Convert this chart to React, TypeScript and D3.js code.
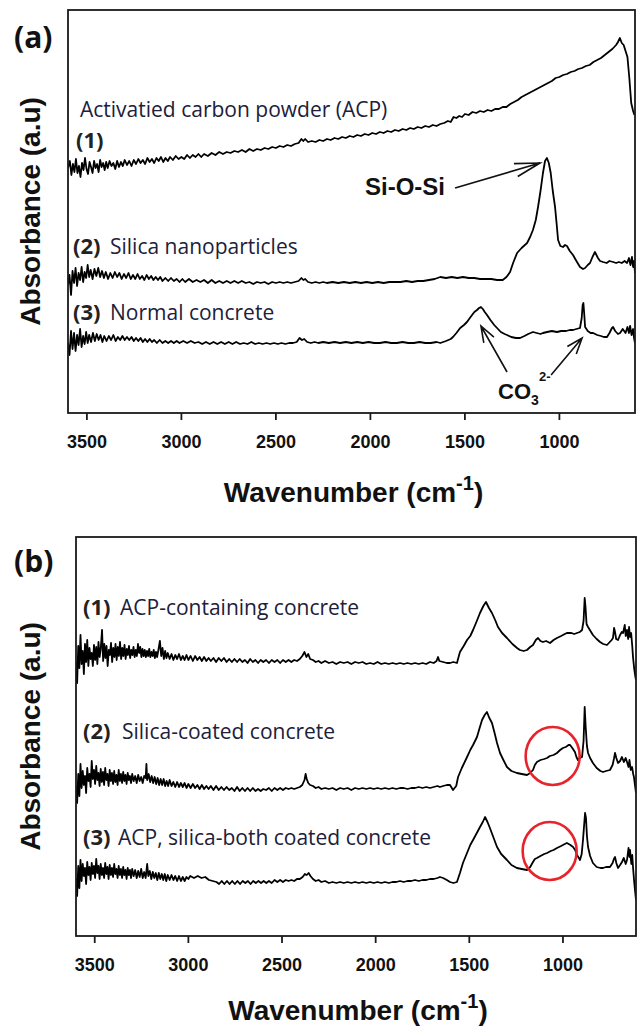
import React from 'react';
import * as d3 from 'd3';

// ---------- DATA ----------
const xTicks = [3500, 3000, 2500, 2000, 1500, 1000];

// Panel (a): absorbance (a.u., offset-stacked) vs wavenumber (cm-1)
const acpPowder: [number, number][] = [
  [3600,245],[3590,252],[3582,238],[3574,249],[3566,241],[3558,254],[3550,240],[3542,247],[3534,236],[3526,250],
  [3518,243],[3510,255],[3502,244],[3494,239],[3486,251],[3478,246],[3470,240],[3462,252],[3454,245],[3446,249],
  [3438,241],[3430,253],[3422,246],[3414,250],[3406,243],[3398,251],[3390,245],[3380,252],[3370,247],[3360,250],
  [3350,244],[3340,252],[3330,246],[3320,251],[3310,247],[3300,253],[3288,248],[3276,252],[3264,247],[3252,253],
  [3240,249],[3228,254],[3216,250],[3204,253],[3192,249],[3180,255],[3168,251],[3156,254],[3144,250],[3132,255],
  [3120,252],[3108,256],[3096,251],[3084,255],[3072,252],[3060,256],[3045,253],[3030,257],[3015,254],[3000,256],
  [2985,254],[2970,258],[2955,255],[2940,258],[2925,256],[2910,259],[2895,256],[2880,259],[2860,257],[2840,260],
  [2820,258],[2800,261],[2780,259],[2760,261],[2740,260],[2720,262],[2700,261],[2680,263],[2660,261],[2640,264],
  [2620,262],[2600,264],[2580,263],[2560,265],[2540,264],[2520,266],[2500,265],[2480,267],[2460,266],[2440,268],
  [2420,267],[2400,269],[2380,270],[2365,274],[2355,272],[2345,274],[2330,271],[2310,272],[2290,271],[2270,273],
  [2250,272],[2230,274],[2210,273],[2190,275],[2170,274],[2150,276],[2130,275],[2110,277],[2090,276],[2070,278],
  [2050,277],[2030,279],[2010,278],[1990,280],[1970,279],[1950,281],[1930,280],[1910,282],[1890,281],[1870,283],
  [1850,282],[1830,284],[1810,283],[1790,285],[1770,284],[1750,286],[1730,285],[1710,287],[1690,286],[1670,288],
  [1650,287],[1630,289],[1610,290],[1590,292],[1575,291],[1560,296],[1545,295],[1530,297],[1515,296],[1500,299],
  [1480,298],[1460,301],[1440,300],[1420,302],[1400,301],[1380,303],[1360,302],[1340,304],[1320,304],[1300,306],
  [1280,306],[1260,309],[1240,311],[1220,313],[1200,316],[1180,318],[1160,320],[1140,322],[1120,324],[1100,326],
  [1080,328],[1060,330],[1040,332],[1020,335],[1000,336],[980,338],[960,339],[940,341],[920,342],[900,344],
  [880,345],[860,347],[840,348],[820,351],[800,353],[780,355],[760,358],[740,361],[720,364],[700,368],
  [690,371],[680,375],[670,370],[660,368],[650,362],[640,356],[630,335],[620,310],[610,302],[603,298],
];

const silicaNano: [number, number][] = [
  [3600,128],[3592,138],[3584,118],[3576,142],[3568,130],[3560,145],[3552,127],[3544,140],[3536,133],[3528,146],
  [3520,131],[3512,141],[3504,135],[3496,148],[3488,136],[3480,143],[3470,134],[3460,144],[3450,137],[3440,145],
  [3430,136],[3420,142],[3410,135],[3400,141],[3388,134],[3376,140],[3364,135],[3352,141],[3340,136],[3328,140],
  [3316,134],[3304,139],[3292,135],[3280,140],[3268,134],[3256,138],[3244,134],[3232,139],[3220,134],[3208,137],
  [3196,133],[3184,138],[3172,134],[3160,137],[3148,133],[3136,136],[3124,133],[3112,136],[3100,132],[3085,135],
  [3070,132],[3055,135],[3040,132],[3025,134],[3010,131],[2995,134],[2980,131],[2960,134],[2940,131],[2920,133],
  [2900,131],[2880,133],[2860,130],[2840,133],[2820,130],[2800,132],[2780,130],[2760,132],[2740,130],[2720,132],
  [2700,130],[2680,132],[2660,130],[2640,131],[2620,129],[2600,131],[2580,130],[2560,131],[2540,129],[2520,131],
  [2500,130],[2480,131],[2460,130],[2440,131],[2420,130],[2400,131],[2380,132],[2365,135],[2355,133],[2345,134],
  [2330,131],[2310,130],[2290,131],[2270,130],[2250,131],[2230,130],[2200,131],[2170,130],[2140,131],[2110,130],
  [2080,131],[2050,130],[2020,131],[1990,130],[1960,131],[1930,130],[1900,131],[1870,131],[1840,131],[1810,132],
  [1780,131],[1750,132],[1720,132],[1690,133],[1660,134],[1630,136],[1600,135],[1570,136],[1540,135],[1510,136],
  [1480,135],[1450,135],[1420,134],[1390,134],[1360,134],[1330,133],[1300,133],[1280,136],[1261,141],[1245,150],
  [1224,160],[1200,165],[1171,170],[1155,176],[1140,183],[1125,193],[1113,206],[1100,222],[1087,240],[1076,252],
  [1066,255],[1056,250],[1046,240],[1035,222],[1023,206],[1015,190],[1007,173],[995,167],[981,166],[970,168],
  [960,167],[945,162],[928,158],[910,152],[891,146],[875,144],[864,145],[850,148],[838,150],[825,156],
  [812,161],[804,158],[796,155],[785,152],[769,151],[750,150],[735,152],[716,151],[700,150],[685,151],
  [670,150],[655,152],[642,150],[632,155],[624,148],[616,156],[610,146],[605,152],[600,140],
];

const normalConcreteA: [number, number][] = [
  [3600,70],[3592,58],[3584,82],[3576,64],[3568,80],[3560,62],[3552,78],[3544,68],[3536,84],[3528,66],
  [3520,77],[3512,69],[3504,81],[3496,70],[3488,78],[3478,71],[3468,80],[3458,72],[3448,79],[3438,73],
  [3428,78],[3418,71],[3408,77],[3396,72],[3384,77],[3372,73],[3360,78],[3348,72],[3336,76],[3324,73],
  [3312,77],[3300,73],[3288,76],[3276,73],[3264,76],[3252,72],[3240,75],[3228,72],[3216,75],[3204,71],
  [3192,74],[3180,71],[3168,74],[3156,71],[3144,73],[3130,70],[3115,73],[3100,70],[3085,72],[3070,70],
  [3055,72],[3040,70],[3025,72],[3010,70],[2990,72],[2970,70],[2950,72],[2930,70],[2910,71],[2890,69],
  [2870,71],[2850,69],[2830,71],[2810,69],[2790,71],[2770,69],[2750,71],[2730,69],[2710,71],[2690,69],
  [2670,70],[2650,69],[2630,71],[2610,69],[2590,70],[2570,69],[2550,70],[2530,69],[2510,70],[2490,69],
  [2470,70],[2450,69],[2430,70],[2410,70],[2390,71],[2375,75],[2362,73],[2350,74],[2335,71],[2315,70],
  [2295,71],[2275,70],[2250,71],[2220,70],[2190,71],[2160,70],[2130,71],[2100,70],[2070,71],[2040,70],
  [2010,71],[1980,70],[1950,70],[1920,71],[1890,70],[1860,70],[1830,71],[1800,70],[1770,70],[1740,71],
  [1710,70],[1680,70],[1650,71],[1630,70],[1600,72],[1575,74],[1563,76],[1545,80],[1525,85],[1505,88],
  [1489,91],[1470,96],[1450,101],[1436,103],[1425,105],[1415,106],[1405,104],[1395,101],[1383,98],[1365,93],
  [1345,88],[1330,85],[1310,81],[1290,79],[1277,78],[1255,76],[1230,75],[1208,75],[1185,77],[1165,79],
  [1140,81],[1120,80],[1100,79],[1087,80],[1065,81],[1040,82],[1013,81],[990,82],[965,82],[945,83],
  [928,83],[910,84],[891,85],[882,95],[877,108],[873,110],[869,100],[864,86],[850,82],[835,80],
  [822,80],[800,78],[780,77],[765,76],[748,76],[735,80],[722,85],[716,86],[705,82],[690,79],
  [679,80],[665,84],[650,80],[640,86],[632,80],[626,87],[618,78],[610,84],[605,75],[600,70],
];

// Panel (b)
const acpConcrete: [number, number][] = [
  [3600,275],[3594,253],[3588,290],[3582,268],[3576,301],[3570,272],[3564,285],[3558,262],[3552,292],[3546,274],
  [3540,296],[3534,270],[3528,288],[3522,277],[3516,283],[3510,270],[3504,291],[3498,276],[3492,289],[3486,272],
  [3480,294],[3474,279],[3468,287],[3461,306],[3455,275],[3449,292],[3443,278],[3437,290],[3431,270],[3425,286],
  [3419,281],[3413,293],[3407,274],[3401,288],[3395,279],[3389,292],[3383,276],[3377,289],[3371,280],[3365,294],
  [3359,277],[3353,288],[3347,280],[3341,291],[3335,277],[3329,287],[3323,281],[3317,290],[3311,278],[3305,286],
  [3299,281],[3293,289],[3287,279],[3281,286],[3275,280],[3269,292],[3263,283],[3257,289],[3251,279],[3245,287],
  [3239,280],[3233,286],[3227,279],[3221,285],[3215,280],[3209,287],[3203,279],[3197,284],[3191,280],[3185,286],
  [3179,278],[3173,284],[3167,279],[3160,286],[3152,295],[3145,280],[3138,288],[3131,277],[3124,285],[3117,278],
  [3110,283],[3100,277],[3090,282],[3080,276],[3070,281],[3060,277],[3050,282],[3040,276],[3030,280],[3020,276],
  [3010,281],[3000,276],[2988,280],[2976,275],[2964,280],[2952,276],[2940,279],[2928,275],[2916,279],[2904,275],
  [2892,278],[2880,275],[2866,278],[2852,274],[2838,278],[2824,275],[2810,278],[2796,274],[2782,277],[2768,274],
  [2754,277],[2740,274],[2726,277],[2712,274],[2698,276],[2684,273],[2670,277],[2656,274],[2642,276],[2628,273],
  [2614,276],[2600,274],[2585,276],[2570,273],[2555,276],[2540,274],[2525,276],[2510,273],[2495,276],[2480,274],
  [2465,276],[2450,274],[2435,276],[2420,275],[2405,277],[2392,280],[2380,284],[2370,279],[2360,282],[2350,277],
  [2335,276],[2320,274],[2305,275],[2290,273],[2270,275],[2250,273],[2230,274],[2210,272],[2190,274],[2170,273],
  [2150,274],[2130,272],[2110,274],[2090,273],[2070,274],[2050,272],[2030,273],[2010,272],[1990,274],[1970,272],
  [1950,273],[1930,272],[1910,273],[1890,272],[1870,273],[1850,272],[1830,273],[1810,272],[1790,273],[1770,272],
  [1750,273],[1730,272],[1710,274],[1690,273],[1675,275],[1667,279],[1660,275],[1640,274],[1620,273],[1603,273],
  [1585,274],[1566,273],[1550,284],[1530,290],[1512,296],[1495,300],[1480,306],[1460,315],[1443,323],[1425,330],
  [1411,334],[1395,328],[1379,323],[1362,316],[1347,309],[1325,303],[1299,298],[1270,292],[1245,288],[1230,286],
  [1210,285],[1192,286],[1175,289],[1160,291],[1145,296],[1133,298],[1120,295],[1107,294],[1090,295],[1069,293],
  [1050,296],[1032,298],[1010,300],[990,302],[979,303],[955,303],[940,302],[925,303],[910,304],[898,306],
  [890,315],[884,338],[880,330],[874,312],[866,309],[853,305],[840,301],[820,297],[802,294],[785,292],
  [765,291],[750,294],[740,296],[733,298],[727,308],[722,304],[716,297],[706,296],[695,301],[686,304],
  [679,303],[670,311],[665,300],[658,306],[652,297],[647,309],[642,299],[636,303],[630,290],[626,279],
  [620,268],[614,260],[610,256],
];

const silicaConcrete: [number, number][] = [
  [3600,150],[3594,133],[3588,162],[3582,140],[3576,172],[3570,148],[3564,165],[3558,151],[3552,160],[3546,143],
  [3540,168],[3534,155],[3528,162],[3522,149],[3516,175],[3510,157],[3504,166],[3498,152],[3492,170],[3486,156],
  [3480,163],[3474,150],[3468,167],[3462,154],[3456,164],[3450,151],[3444,168],[3438,156],[3432,162],[3426,150],
  [3420,166],[3414,155],[3408,163],[3402,152],[3396,165],[3390,154],[3384,161],[3378,151],[3372,166],[3366,155],
  [3360,162],[3354,153],[3348,164],[3342,155],[3336,161],[3330,152],[3324,163],[3318,156],[3312,160],[3306,153],
  [3300,162],[3292,155],[3284,160],[3276,153],[3268,161],[3260,155],[3252,159],[3244,153],[3236,160],[3228,158],
  [3224,172],[3220,156],[3212,162],[3204,154],[3196,160],[3188,153],[3180,159],[3172,152],[3164,158],[3156,151],
  [3148,157],[3140,151],[3132,157],[3124,150],[3116,155],[3108,150],[3100,156],[3090,150],[3080,154],[3070,149],
  [3060,154],[3050,149],[3040,153],[3030,149],[3020,153],[3010,148],[3000,152],[2988,148],[2976,152],[2964,148],
  [2952,151],[2940,147],[2928,151],[2916,147],[2904,150],[2892,147],[2880,150],[2866,146],[2852,150],[2838,146],
  [2824,149],[2810,146],[2796,149],[2782,146],[2768,148],[2754,145],[2740,149],[2726,145],[2712,148],[2698,145],
  [2684,148],[2670,145],[2656,148],[2642,145],[2628,147],[2614,145],[2600,147],[2585,146],[2570,148],[2555,145],
  [2540,148],[2525,146],[2510,148],[2495,146],[2480,148],[2465,147],[2450,148],[2435,147],[2420,148],[2405,149],
  [2392,151],[2380,156],[2374,162],[2368,157],[2360,153],[2350,151],[2335,150],[2320,148],[2305,149],[2290,147],
  [2270,148],[2250,147],[2230,148],[2210,146],[2190,148],[2170,147],[2150,148],[2130,146],[2110,148],[2090,147],
  [2070,148],[2050,147],[2030,148],[2010,147],[1990,148],[1970,147],[1950,148],[1930,147],[1910,148],[1890,147],
  [1870,148],[1850,148],[1830,147],[1810,148],[1790,148],[1770,149],[1750,148],[1730,149],[1710,148],[1690,149],
  [1670,150],[1657,149],[1640,150],[1620,151],[1603,151],[1587,146],[1570,150],[1560,159],[1540,168],[1512,179],
  [1495,186],[1480,191],[1459,199],[1445,208],[1432,216],[1418,221],[1406,224],[1393,218],[1379,213],[1365,203],
  [1352,193],[1336,183],[1318,176],[1299,169],[1275,165],[1246,163],[1220,162],[1192,161],[1175,163],[1160,166],
  [1150,171],[1139,174],[1120,176],[1100,177],[1085,178],[1070,180],[1050,181],[1032,183],[1015,186],[1000,188],
  [985,189],[970,191],[962,191],[950,188],[936,184],[928,179],[920,176],[910,178],[898,179],[890,195],
  [884,229],[879,210],[872,190],[866,183],[855,178],[840,173],[820,168],[800,165],[786,164],[770,165],
  [749,166],[735,171],[728,177],[722,183],[715,178],[706,173],[695,175],[685,179],[675,174],[665,178],
  [658,174],[650,169],[645,176],[638,166],[631,169],[625,162],[621,159],[615,150],[610,143],
];

const bothCoatedConcrete: [number, number][] = [
  [3600,58],[3594,40],[3588,70],[3582,48],[3576,76],[3570,55],[3564,72],[3558,60],[3552,68],[3546,52],
  [3540,74],[3534,61],[3528,69],[3522,56],[3516,73],[3510,62],[3504,70],[3498,58],[3492,77],[3486,63],
  [3480,70],[3474,57],[3468,72],[3462,61],[3456,68],[3450,58],[3444,73],[3438,62],[3432,69],[3426,57],
  [3420,71],[3414,61],[3408,68],[3402,59],[3396,72],[3390,62],[3384,67],[3378,58],[3372,70],[3366,61],
  [3360,67],[3354,58],[3348,69],[3342,61],[3336,66],[3330,57],[3324,68],[3318,61],[3312,66],[3306,58],
  [3300,67],[3292,60],[3284,66],[3276,58],[3268,65],[3260,59],[3252,67],[3244,58],[3236,64],[3228,58],
  [3220,72],[3214,60],[3206,65],[3198,57],[3190,64],[3182,58],[3174,63],[3166,56],[3158,63],[3150,57],
  [3142,62],[3134,56],[3126,62],[3118,55],[3110,61],[3100,56],[3090,61],[3080,56],[3070,60],[3060,55],
  [3050,60],[3040,55],[3030,59],[3020,55],[3010,59],[3000,57],[2990,60],[2970,58],[2950,60],[2930,58],
  [2910,59],[2890,56],[2870,55],[2850,54],[2836,52],[2822,55],[2808,52],[2794,55],[2780,52],[2766,55],
  [2752,52],[2738,55],[2724,52],[2710,55],[2696,53],[2682,55],[2668,52],[2654,55],[2640,53],[2626,55],
  [2612,53],[2598,55],[2584,53],[2570,55],[2555,53],[2540,56],[2525,54],[2510,56],[2495,54],[2480,56],
  [2465,55],[2450,56],[2435,55],[2420,57],[2405,57],[2390,59],[2378,62],[2368,61],[2358,63],[2348,60],
  [2335,57],[2320,55],[2305,56],[2290,54],[2270,55],[2250,53],[2230,54],[2210,53],[2190,54],[2170,53],
  [2150,54],[2130,53],[2110,54],[2090,53],[2070,54],[2050,53],[2030,54],[2010,53],[1990,54],[1970,53],
  [1950,54],[1930,53],[1910,54],[1890,54],[1870,55],[1850,54],[1830,55],[1810,55],[1790,56],[1770,55],
  [1750,56],[1730,56],[1710,57],[1690,57],[1670,58],[1657,59],[1640,58],[1620,56],[1603,54],[1585,53],
  [1566,54],[1550,63],[1534,73],[1510,84],[1495,91],[1480,96],[1460,103],[1443,109],[1428,114],[1416,119],
  [1403,114],[1390,108],[1372,99],[1352,89],[1330,82],[1299,76],[1275,71],[1246,68],[1220,67],[1192,66],
  [1175,69],[1160,74],[1150,77],[1139,78],[1120,80],[1100,82],[1085,83],[1065,85],[1050,86],[1032,88],
  [1010,90],[990,92],[979,93],[960,91],[946,89],[935,86],[925,81],[915,78],[909,76],[900,82],
  [893,96],[882,123],[877,118],[872,100],[866,89],[855,80],[840,73],[820,69],[800,68],[786,68],
  [770,69],[749,69],[735,73],[728,77],[722,79],[715,73],[706,68],[695,71],[685,74],[675,78],
  [665,72],[658,76],[650,88],[645,79],[642,86],[635,72],[630,81],[626,69],[620,55],[615,45],[610,36],
];

// annotations (wavenumber, absorbance)
const siArrow: [number, number][] = [[1552, 225], [1103, 250]];
const co3Arrows: [number, number][][] = [
  [[1277, 41], [1415, 87]],
  [[1044, 38], [880, 75]],
];
const circlesB: [number, number][] = [[1055, 180], [1071, 85]];

const seriesA = [acpPowder, silicaNano, normalConcreteA];
const seriesB = [acpConcrete, silicaConcrete, bothCoatedConcrete];

// ---------- DRAWING ----------
const AXIS_FONT = "'Liberation Sans', Arial, sans-serif";
const LABEL_FONT = "'Open Sans', 'Noto Sans', sans-serif";
const LABEL_COLOR = '#20203a';

function arrowPath(x1: number, y1: number, x2: number, y2: number, len: number, halfAngleDeg: number) {
  const a = Math.atan2(y1 - y2, x1 - x2);
  const h = (halfAngleDeg * Math.PI) / 180;
  const p1 = [x2 + len * Math.cos(a + h), y2 + len * Math.sin(a + h)];
  const p2 = [x2 + len * Math.cos(a - h), y2 + len * Math.sin(a - h)];
  return `M${x1},${y1}L${x2},${y2}M${p1[0]},${p1[1]}L${x2},${y2}L${p2[0]},${p2[1]}`;
}

interface FrameCfg { left: number; right: number; top: number; bottom: number; xDomain: [number, number]; yMax: number; id: string; titleY: number; }

function Frame({ cfg, series, children }: { cfg: FrameCfg; series: [number, number][][]; children?: (x: d3.ScaleLinear<number, number>, y: d3.ScaleLinear<number, number>) => React.ReactNode }) {
  const x = d3.scaleLinear().domain(cfg.xDomain).range([cfg.left, cfg.right]);
  const y = d3.scaleLinear().domain([0, cfg.yMax]).range([cfg.bottom, cfg.top]);
  const line = d3.line<[number, number]>().x((d) => x(d[0])).y((d) => y(d[1]));
  const midX = (cfg.left + cfg.right) / 2;
  const midY = (cfg.top + cfg.bottom) / 2;
  return (
    <g>
      <defs>
        <clipPath id={`clip-${cfg.id}`}>
          <rect x={cfg.left} y={cfg.top} width={cfg.right - cfg.left} height={cfg.bottom - cfg.top} />
        </clipPath>
      </defs>
      <g clipPath={`url(#clip-${cfg.id})`}>
        {series.map((s, i) => (
          <path key={i} d={line(s) || ''} fill="none" stroke="#000" strokeWidth={1.8} strokeLinejoin="round" />
        ))}
      </g>
      <rect x={cfg.left} y={cfg.top} width={cfg.right - cfg.left} height={cfg.bottom - cfg.top} fill="none" stroke="#1a1a1a" strokeWidth={1.8} />
      {xTicks.map((t) => (
        <g key={t}>
          <line x1={x(t)} x2={x(t)} y1={cfg.bottom} y2={cfg.bottom + 7} stroke="#1a1a1a" strokeWidth={1.8} />
          <text x={x(t)} y={cfg.bottom + 35} textAnchor="middle" fontFamily={AXIS_FONT} fontWeight="bold" fontSize={18} fill="#111">{t}</text>
        </g>
      ))}
      <text x={midX + 2} y={cfg.titleY} textAnchor="middle" fontFamily={AXIS_FONT} fontWeight="bold" fontSize={28} fill="#111">
        Wavenumber (cm<tspan fontSize={20} dy={-12}>-1</tspan><tspan dy={12}>)</tspan>
      </text>
      <text transform={`translate(40,${midY}) rotate(-90)`} textAnchor="middle" fontFamily={AXIS_FONT} fontWeight="bold" fontSize={28} fill="#111">
        Absorbance (a.u)
      </text>
      {children && children(x, y)}
    </g>
  );
}

function Label({ x, y, num, text, textX }: { x: number; y: number; num: string; text: string; textX: number }) {
  return (
    <g fontFamily={LABEL_FONT} fill={LABEL_COLOR}>
      <text x={x} y={y} fontWeight="bold" fontSize={22} fill="#222">{num}</text>
      <text x={textX} y={y} fontSize={21}>{text}</text>
    </g>
  );
}

export default function App() {
  const cfgA: FrameCfg = { left: 68, right: 635, top: 10, bottom: 413, xDomain: [3600, 600], yMax: 403, id: 'a', titleY: 502 };
  const cfgB: FrameCfg = { left: 76, right: 636, top: 537, bottom: 936, xDomain: [3600, 610], yMax: 399, id: 'b', titleY: 1020 };
  return (
    <svg width={642} height={1030} style={{ position: 'absolute', left: 0, top: 0, background: '#fff' }}>
      <rect width={642} height={1030} fill="#fff" />
      {/* Panel (a) */}
      <text x={14} y={48} fontFamily={LABEL_FONT} fontWeight="bold" fontSize={30} fill="#111">(a)</text>
      <Frame cfg={cfgA} series={seriesA}>
        {(x, y) => (
          <g>
            <path d={arrowPath(x(siArrow[0][0]), y(siArrow[0][1]), x(siArrow[1][0]), y(siArrow[1][1]), 26, 15)} fill="none" stroke="#111" strokeWidth={1.6} />
            {co3Arrows.map((a, i) => (
              <path key={i} d={arrowPath(x(a[0][0]), y(a[0][1]), x(a[1][0]), y(a[1][1]), 17, 20)} fill="none" stroke="#111" strokeWidth={1.6} />
            ))}
          </g>
        )}
      </Frame>
      <text x={80} y={117} fontFamily={LABEL_FONT} fontSize={21} fill={LABEL_COLOR}>Activatied carbon powder (ACP)</text>
      <text x={76} y={148} fontFamily={LABEL_FONT} fontWeight="bold" fontSize={22} fill="#222">(1)</text>
      <Label x={73} y={254} num="(2)" textX={110} text="Silica nanoparticles" />
      <Label x={73} y={320} num="(3)" textX={110} text="Normal concrete" />
      <text x={365} y={195} fontFamily={AXIS_FONT} fontWeight="bold" fontSize={24} fill="#111">Si-O-Si</text>
      <g fontFamily={AXIS_FONT} fontWeight="bold" fill="#111">
        <text x={498} y={399} fontSize={22}>CO</text>
        <text x={531} y={405} fontSize={14}>3</text>
        <text x={539} y={381} fontSize={13}>2-</text>
      </g>

      {/* Panel (b) */}
      <text x={14} y={572} fontFamily={LABEL_FONT} fontWeight="bold" fontSize={30} fill="#111">(b)</text>
      <Frame cfg={cfgB} series={seriesB}>
        {(x, y) => (
          <g>
            {circlesB.map((c, i) => (
              <ellipse key={i} cx={x(c[0])} cy={y(c[1])} rx={27} ry={29} fill="none" stroke="#e8232b" strokeWidth={2.6} />
            ))}
          </g>
        )}
      </Frame>
      <Label x={83} y={615} num="(1)" textX={120} text="ACP-containing concrete" />
      <Label x={83} y={739} num="(2)" textX={122} text="Silica-coated concrete" />
      <Label x={83} y={845} num="(3)" textX={118} text="ACP, silica-both coated concrete" />
    </svg>
  );
}
